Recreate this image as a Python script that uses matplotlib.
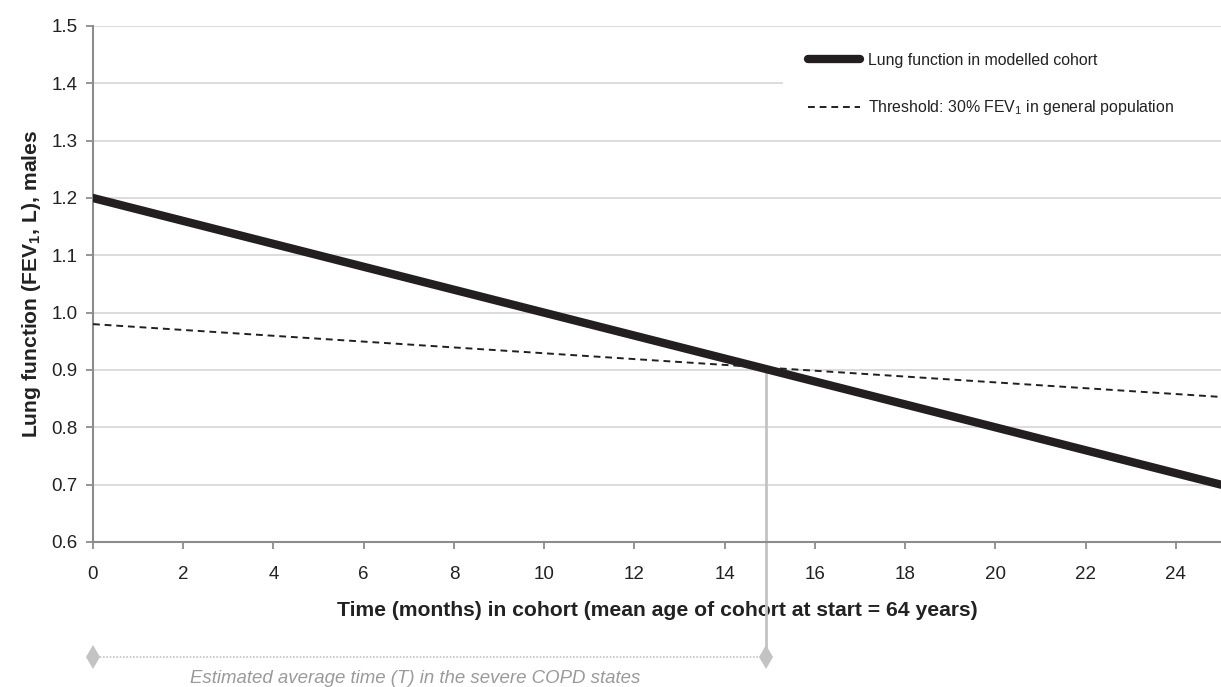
import matplotlib
matplotlib.use("Agg")
import matplotlib.pyplot as plt
from matplotlib.patches import Rectangle
import numpy as np

plt.rcParams['font.family'] = ['Liberation Sans', 'DejaVu Sans']
plt.rcParams['mathtext.fontset'] = 'custom'
plt.rcParams['mathtext.rm'] = 'Liberation Sans'
plt.rcParams['mathtext.bf'] = 'Liberation Sans:bold'

# Data
months = [0, 25]
cohort_fev1 = [1.2, 0.7]
threshold_fev1 = [0.98, 0.853]
T_months = 14.92
x_ticks = [0, 2, 4, 6, 8, 10, 12, 14, 16, 18, 20, 22, 24]
y_ticks = [0.6, 0.7, 0.8, 0.9, 1.0, 1.1, 1.2, 1.3, 1.4, 1.5]

W, H = 1221, 687
fig = plt.figure(figsize=(W / 100, H / 100), dpi=100)
ax = fig.add_axes([93 / W, 1 - 542 / H, 1 - 93 / W, (542 - 26) / H])
ax.set_xlim(0, 25)
ax.set_ylim(0.6, 1.5)

ax.set_yticks(y_ticks)
ax.set_yticklabels([f"{v:.1f}" for v in y_ticks])
ax.set_xticks(x_ticks)
ax.grid(axis='y', color='#d9d9d9', linewidth=1.3)
ax.set_axisbelow(True)
for s in ['top', 'right']:
    ax.spines[s].set_visible(False)
for s in ['left', 'bottom']:
    ax.spines[s].set_color('#8c8c8c')
    ax.spines[s].set_linewidth(1.5)
ax.tick_params(axis='both', colors='#8c8c8c', length=5, width=1.3, labelsize=13.5,
               labelcolor='#222222')
ax.tick_params(axis='y', pad=6)
ax.tick_params(axis='x', pad=12)

l1, = ax.plot(months, cohort_fev1, color='#231f20', linewidth=6.0, solid_capstyle='round',
              label='Lung function in modelled cohort', zorder=4)
l2, = ax.plot(months, threshold_fev1, color='#231f20', linewidth=1.4, linestyle=(0, (3.5, 2.5)),
              label=r'Threshold: 30% FEV$_1$ in general population', zorder=3)

# white legend area covering the gridline
ax.add_patch(Rectangle((783 / W, 1 - 135 / H), 1 - 783 / W, (135 - 32) / H,
                       transform=fig.transFigure, facecolor='white', edgecolor='none',
                       zorder=1))

# intersection value and annotation
y_int = np.interp(T_months, months, threshold_fev1)
y_ann = 1.2 - (657 - 199) / 572
y_txt = 1.2 - (678 - 199) / 572
ax.plot([T_months, T_months], [y_int, y_ann], color='#c3c3c3', linewidth=2,
        clip_on=False, zorder=2)
ax.plot([0, T_months], [y_ann, y_ann], color='#c3c3c3', linewidth=1.2, linestyle=(0, (1, 1)),
        clip_on=False)
ax.plot([0, T_months], [y_ann, y_ann], linestyle='none', marker='d', markersize=12,
        markeredgewidth=0, color='#c3c3c3', clip_on=False)
ax.text(T_months * 0.478, y_txt, 'Estimated average time (T) in the severe COPD states',
        style='italic', color='#9a9a9a', fontsize=13.4, ha='center', va='center',
        clip_on=False)

ax.set_xlabel('Time (months) in cohort (mean age of cohort at start = 64 years)',
              fontsize=15.2, fontweight='bold', labelpad=13, color='#222222')
ax.set_ylabel(r'Lung function (FEV$_\mathbf{1}$, L), males', fontsize=15.2, fontweight='bold',
              labelpad=6, color='#222222')

leg = ax.legend(handles=[l1, l2], loc='center left', bbox_to_anchor=(808 / W, 1 - 85 / H),
                bbox_transform=fig.transFigure, frameon=False, fontsize=11.4,
                handlelength=3.3, labelspacing=1.95, borderpad=0, borderaxespad=0,
                handletextpad=0.5)
for t in leg.get_texts():
    t.set_color('#222222')

fig.savefig('out.png', dpi=100)
